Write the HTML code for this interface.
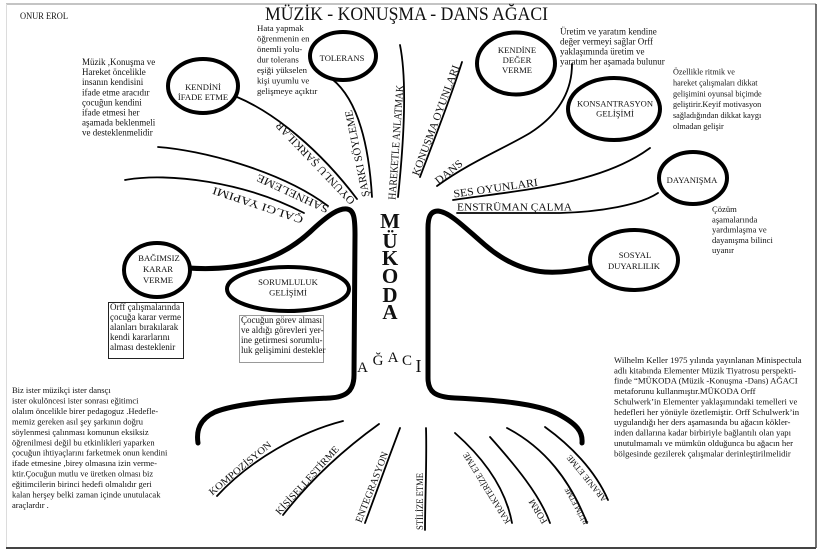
<!DOCTYPE html>
<html>
<head>
<meta charset="utf-8">
<style>
html,body{margin:0;padding:0;background:#fff;}
svg{display:block;}
text{font-family:"Liberation Serif","DejaVu Serif",serif;fill:#111;}
.e{font-size:8.6px;text-anchor:middle;}
.b{font-size:11px;}
</style>
</head>
<body>
<svg width="820" height="551" viewBox="0 0 820 551" xmlns="http://www.w3.org/2000/svg">
<rect width="820" height="551" fill="#fff"/>

<!-- frame -->
<line x1="6" y1="4" x2="816" y2="4" stroke="#8a8a8a" stroke-width="1"/>
<line x1="6.5" y1="4" x2="6.5" y2="548" stroke="#dcdcdc" stroke-width="1"/>
<line x1="816" y1="4" x2="816" y2="548" stroke="#444" stroke-width="1.5"/>
<line x1="6" y1="548" x2="816" y2="548" stroke="#444" stroke-width="2"/>

<!-- title -->
<text x="265" y="20" font-size="19" textLength="283" lengthAdjust="spacingAndGlyphs">MÜZİK - KONUŞMA - DANS  AĞACI</text>
<text x="20" y="19" font-size="9.5" textLength="48" lengthAdjust="spacingAndGlyphs">ONUR EROL</text>

<!-- thin branch lines -->
<g fill="none" stroke="#000" stroke-width="1.8" stroke-linecap="round">
  <path d="M237,97 C275,113 320,150 357,199"/>
  <path d="M158,147 C200,150 280,170 328,206"/>
  <path d="M125,180 C168,172 245,182 304,213"/>
  <path d="M332,79 C352,95 368,130 372,197"/>
  <path d="M400,45 C407,80 404,140 398,197"/>
  <path d="M462,62 C450,100 432,145 420,177"/>
  <path d="M437,186 C470,162 505,148 530,133 C555,117 572,95 572,64"/>
  <path d="M453,200 C520,190 600,185 650,148"/>
  <path d="M457,213 L560,213 C600,212 640,205 658,193"/>
  <!-- roots -->
  <path d="M343,421 C300,432 250,460 217,496"/>
  <path d="M379,424 Q322,465 283,515"/>
  <path d="M400,428 C388,460 375,495 365,523"/>
  <path d="M426,428 C427,460 425,500 425,530"/>
  <path d="M455,433 C480,455 505,485 512,523"/>
  <path d="M490,437 C515,465 540,495 550,523"/>
  <path d="M507,428 C545,448 570,480 587,523"/>
  <path d="M545,427 C570,445 595,470 608,500"/>
</g>

<!-- thick trunk paths -->
<g fill="none" stroke="#000" stroke-width="5" stroke-linecap="round" stroke-linejoin="round">
  <path d="M188,268 C250,272 285,255 310,232 C330,213 340,208 347,209 C354,210 355,218 355,235 L354,375 C354,392 345,397 330,398 C290,400 240,402 215,412 C200,419 196,430 198,443"/>
  <path d="M592,267 C575,271 560,273 545,272 C520,270 500,258 485,245 C465,228 450,212 438,211 C430,211 428,218 428,228 L428,378 C428,392 435,397 455,398 C495,400 535,403 558,414 C577,424 583,432 582,443"/>
</g>

<!-- ellipses -->
<g fill="#fff" stroke="#000" stroke-width="4">
  <ellipse cx="203" cy="86" rx="35" ry="27"/>
  <ellipse cx="343" cy="56" rx="33" ry="24"/>
  <ellipse cx="516" cy="63.5" rx="39" ry="31"/>
  <ellipse cx="614" cy="109" rx="46" ry="31"/>
  <ellipse cx="693" cy="178" rx="34" ry="26"/>
  <ellipse cx="634" cy="260" rx="44" ry="30"/>
  <ellipse cx="157" cy="270" rx="33" ry="27"/>
  <ellipse cx="288" cy="289" rx="61" ry="22"/>
</g>

<!-- ellipse labels -->
<text class="e" x="203" y="90">KENDİNİ</text>
<text class="e" x="203" y="100">İFADE ETME</text>
<text class="e" x="342" y="61" font-size="8.5">TOLERANS</text>
<text class="e" x="517" y="53">KENDİNE</text>
<text class="e" x="517" y="63">DEĞER</text>
<text class="e" x="517" y="73">VERME</text>
<text class="e" x="615" y="106.5" textLength="76" lengthAdjust="spacingAndGlyphs">KONSANTRASYON</text>
<text class="e" x="615" y="116.5">GELİŞİMİ</text>
<text class="e" x="692" y="183">DAYANIŞMA</text>
<text class="e" x="635" y="258">SOSYAL</text>
<text class="e" x="634" y="269">DUYARLILIK</text>
<text class="e" x="159" y="261" font-size="9.2">BAĞIMSIZ</text>
<text class="e" x="158" y="272" font-size="9.2">KARAR</text>
<text class="e" x="158" y="283" font-size="9.2">VERME</text>
<text class="e" x="288" y="285" font-size="9.2">SORUMLULUK</text>
<text class="e" x="288" y="295.5" font-size="9.2">GELİŞİMİ</text>

<!-- branch labels -->
<text class="b" transform="translate(355.6,200.4) rotate(-133.6)" textLength="110" lengthAdjust="spacingAndGlyphs">OYUNLU ŞARKILAR</text>
<text class="b" font-size="12" transform="translate(329.5,206.8) rotate(-155.1)" textLength="78" lengthAdjust="spacingAndGlyphs">SAHNELEME</text>
<text class="b" font-size="12" transform="translate(304,216.7) rotate(-161.6)" textLength="95" lengthAdjust="spacingAndGlyphs">ÇALGI YAPIMI</text>
<text class="b" transform="translate(369.5,196) rotate(-101.5)" textLength="88" lengthAdjust="spacingAndGlyphs">ŞARKI SÖYLEME</text>
<text class="b" font-size="10.5" transform="translate(395.5,200) rotate(-86)" textLength="115" lengthAdjust="spacingAndGlyphs">HAREKETLE ANLATMAK</text>
<text class="b" transform="translate(418.6,176.4) rotate(-69.5)" textLength="117" lengthAdjust="spacingAndGlyphs">KONUŞMA OYUNLARI</text>
<text class="b" font-size="11.5" transform="translate(438.5,184.8) rotate(-38.7)" textLength="32" lengthAdjust="spacingAndGlyphs">DANS</text>
<text class="b" font-size="12" transform="translate(454,197.5) rotate(-8)" textLength="85" lengthAdjust="spacingAndGlyphs">SES  OYUNLARI</text>
<text class="b" font-size="11.5" x="457" y="210.5" textLength="115" lengthAdjust="spacingAndGlyphs">ENSTRÜMAN ÇALMA</text>

<!-- root labels -->
<text font-size="10" transform="translate(212.2,495.7) rotate(-39.8)" textLength="78" lengthAdjust="spacingAndGlyphs">KOMPOZİSYON</text>
<text font-size="10" transform="translate(279.6,515.4) rotate(-47.7)" textLength="89" lengthAdjust="spacingAndGlyphs">KİŞİSELLEŞTİRME</text>
<text font-size="10" transform="translate(361.3,523.3) rotate(-68.9)" textLength="75" lengthAdjust="spacingAndGlyphs">ENTEGRASYON</text>
<text font-size="9" transform="translate(423,530) rotate(-90)" textLength="57" lengthAdjust="spacingAndGlyphs">STİLİZE ETME</text>
<text font-size="9" transform="translate(510.6,521.4) rotate(-121.6)" textLength="82" lengthAdjust="spacingAndGlyphs">KARAKTERİZE ETME</text>
<text font-size="9.5" transform="translate(547.6,521.4) rotate(-121.3)" textLength="27" lengthAdjust="spacingAndGlyphs">FORM</text>
<text font-size="8" transform="translate(588.6,522.5) rotate(-119)" textLength="41" lengthAdjust="spacingAndGlyphs">RİTİM ETME</text>
<text font-size="8.5" transform="translate(607.3,499.1) rotate(-129.4)" textLength="58" lengthAdjust="spacingAndGlyphs">ARANJE ETME</text>

<!-- MÜKODA vertical -->
<g font-size="21" font-weight="bold" text-anchor="middle">
  <text x="390" y="228">M</text>
  <text x="390" y="248">Ü</text>
  <text x="390" y="265">K</text>
  <text x="390" y="283">O</text>
  <text x="390" y="302">D</text>
  <text x="390" y="319">A</text>
</g>
<g text-anchor="middle" font-size="15">
  <text x="362.5" y="372">A</text>
  <text x="378" y="365">Ğ</text>
  <text x="393" y="362">A</text>
  <text x="407" y="365">C</text>
  <text x="418.5" y="372" font-size="18">I</text>
</g>

<!-- boxes -->
<rect x="108.5" y="302.5" width="75" height="56" fill="none" stroke="#222" stroke-width="1"/>
<rect x="239.5" y="315.5" width="84" height="47" fill="none" stroke="#999" stroke-width="1"/>
<g font-size="9">
  <text x="110" y="310">Orff çalışmalarında</text>
  <text x="110" y="320">çocuğa karar verme</text>
  <text x="110" y="330">alanları bırakılarak</text>
  <text x="110" y="340">kendi kararlarını</text>
  <text x="110" y="350">alması desteklenir</text>
</g>
<g font-size="9">
  <text x="241" y="323">Çocuğun görev alması</text>
  <text x="241" y="333">ve aldığı görevleri yer-</text>
  <text x="241" y="343">ine getirmesi sorumlu-</text>
  <text x="241" y="353">luk gelişimini destekler</text>
</g>

<!-- paragraphs -->
<g font-size="9">
  <text x="82" y="65">Müzik ,Konuşma ve</text>
  <text x="82" y="75.1">Hareket öncelikle</text>
  <text x="82" y="85.2">insanın kendisini</text>
  <text x="82" y="95.3">ifade etme aracıdır</text>
  <text x="82" y="105.4">çocuğun kendini</text>
  <text x="82" y="115.5">ifade etmesi her</text>
  <text x="82" y="125.6">aşamada beklenmeli</text>
  <text x="82" y="135.7">ve desteklenmelidir</text>
</g>
<g font-size="8.8">
  <text x="257" y="31">Hata yapmak</text>
  <text x="257" y="41.5">öğrenmenin en</text>
  <text x="257" y="52">önemli yolu-</text>
  <text x="257" y="62.5">dur tolerans</text>
  <text x="257" y="73">eşiği yükselen</text>
  <text x="257" y="83.5">kişi uyumlu ve</text>
  <text x="257" y="94">gelişmeye açıktır</text>
</g>
<g font-size="9">
  <text x="560" y="34.5">Üretim ve yaratım kendine</text>
  <text x="560" y="44.5">değer vermeyi sağlar Orff</text>
  <text x="560" y="54.5">yaklaşımında üretim ve</text>
  <text x="560" y="64.5">yaratım her aşamada bulunur</text>
</g>
<g font-size="8.2">
  <text x="673" y="74.5">Özellikle ritmik ve</text>
  <text x="673" y="85.4">hareket çalışmaları dikkat</text>
  <text x="673" y="96.3">gelişimini oyunsal biçimde</text>
  <text x="673" y="107.2">geliştirir.Keyif motivasyon</text>
  <text x="673" y="118.1">sağladığından dikkat  kaygı</text>
  <text x="673" y="129">olmadan gelişir</text>
</g>
<g font-size="8.6">
  <text x="712" y="212">Çözüm</text>
  <text x="712" y="222.3">aşamalarında</text>
  <text x="712" y="232.5">yardımlaşma ve</text>
  <text x="712" y="242.8">dayanışma  bilinci</text>
  <text x="712" y="253">uyanır</text>
</g>
<g font-size="8.5">
  <text x="12" y="393">Biz ister müzikçi ister dansçı</text>
  <text x="12" y="403.5">ister okulöncesi ister sonrası eğitimci</text>
  <text x="12" y="413.9">olalım öncelikle birer pedagoguz .Hedefle-</text>
  <text x="12" y="424.4">memiz gereken asıl şey şarkının doğru</text>
  <text x="12" y="434.8">söylenmesi çalınması komunun eksiksiz</text>
  <text x="12" y="445.3">öğrenilmesi değil bu etkinlikleri yaparken</text>
  <text x="12" y="455.7">çocuğun ihtiyaçlarını farketmek onun kendini</text>
  <text x="12" y="466.2">ifade etmesine ,birey olmasına izin verme-</text>
  <text x="12" y="476.6">ktir.Çocuğun mutlu ve üretken olması biz</text>
  <text x="12" y="487.1">eğitimcilerin birinci hedefi olmalıdır geri</text>
  <text x="12" y="497.5">kalan herşey belki zaman içinde unutulacak</text>
  <text x="12" y="508">araçlardır .</text>
</g>
<g font-size="8.7">
  <text x="614" y="363">Wilhelm Keller 1975 yılında yayınlanan Minispectula</text>
  <text x="614" y="373.4">adlı kitabında Elementer Müzik Tiyatrosu perspekti-</text>
  <text x="614" y="383.7">finde  “MÜKODA (Müzik -Konuşma -Dans) AĞACI</text>
  <text x="614" y="394.1">metaforunu kullanmıştır.MÜKODA  Orff</text>
  <text x="614" y="404.5">Schulwerk’in Elementer yaklaşımındaki temelleri ve</text>
  <text x="614" y="414.8">hedefleri her yönüyle özetlemiştir. Orff Schulwerk’in</text>
  <text x="614" y="425.2">uygulandığı her ders aşamasında bu ağacın kökler-</text>
  <text x="614" y="435.6">inden dallarına kadar birbiriyle bağlantılı olan yapı</text>
  <text x="614" y="445.9">unutulmamalı ve mümkün olduğunca bu ağacın her</text>
  <text x="614" y="456.3">bölgesinde gezilerek  çalışmalar derinleştirilmelidir</text>
</g>
</svg>
</body>
</html>
